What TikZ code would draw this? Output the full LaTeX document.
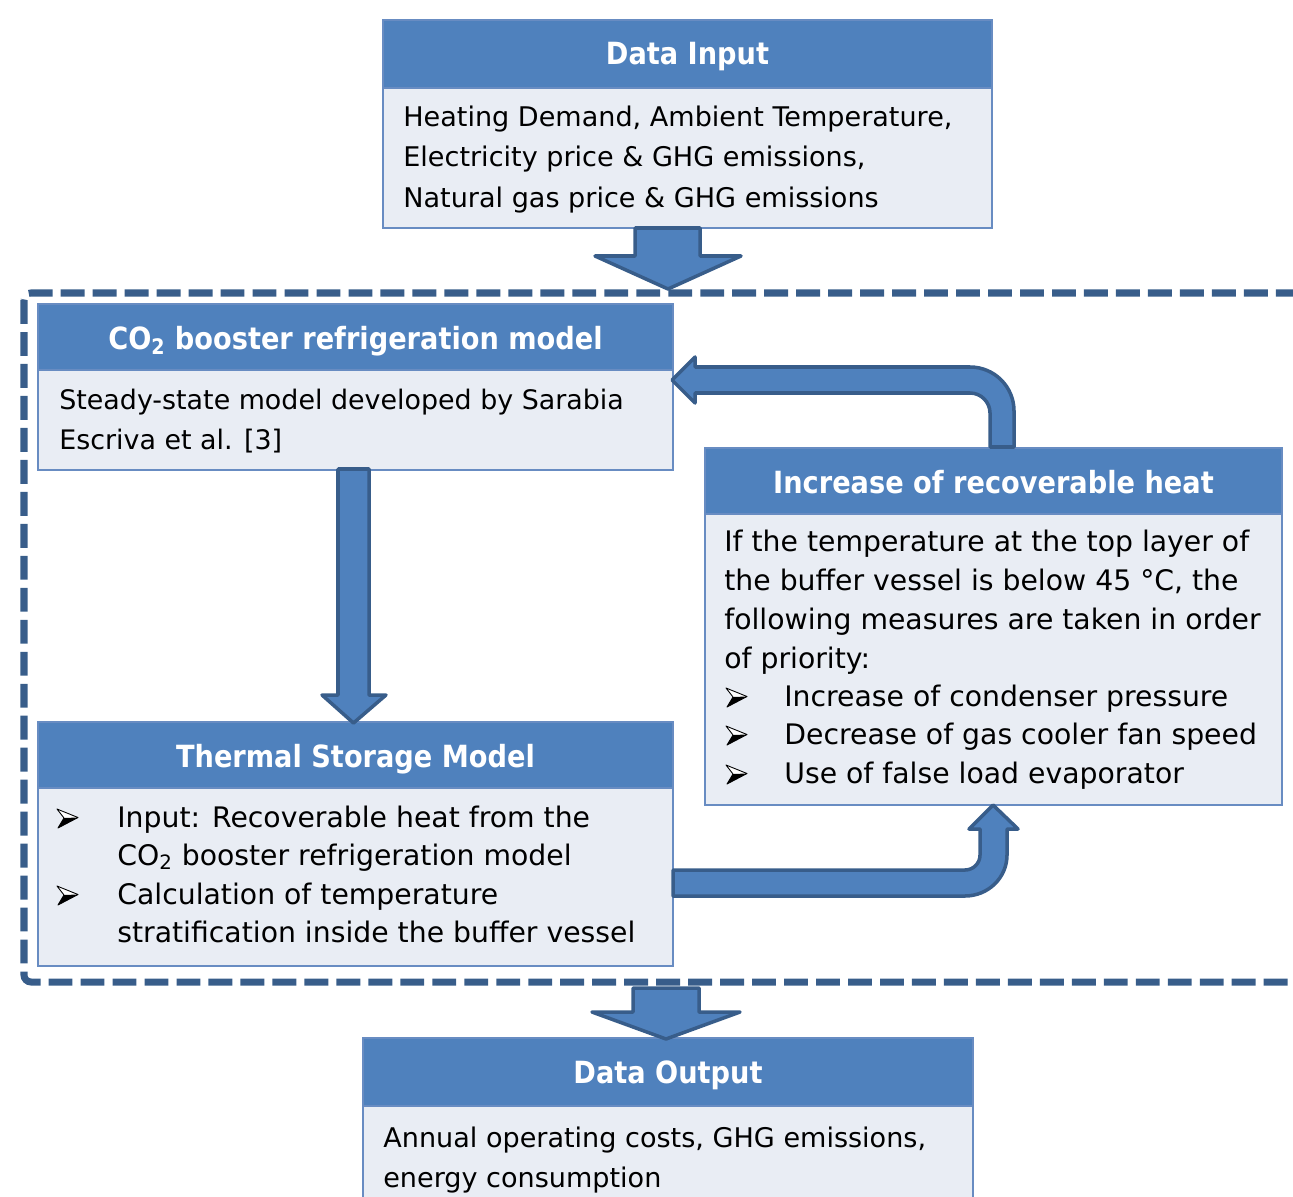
\documentclass[tikz,border=0pt]{standalone}
\usepackage{fontspec}
\setmainfont{DejaVu Sans}
\newfontfamily\hdrfont{DejaVu Sans}[FakeStretch=0.89]
\usetikzlibrary{calc}
\definecolor{hdrblue}{RGB}{79,129,189}
\definecolor{bodyfill}{RGB}{233,237,244}
\definecolor{bodyline}{RGB}{104,140,194}
\definecolor{darkblue}{RGB}{56,93,138}
\begin{document}
\begin{tikzpicture}[x=0.02cm,y=-0.02cm,
  hdr/.style={draw=bodyline, line width=1.1pt, fill=hdrblue, rectangle, inner sep=0pt, outer sep=0pt, anchor=north west},
  bodybox/.style={draw=bodyline, line width=1.1pt, fill=bodyfill, rectangle, inner sep=0pt, outer sep=0pt, anchor=north west},
  htext/.style={text=white, font=\hdrfont\bfseries\fontsize{17.4}{20}\selectfont, anchor=base, inner sep=0pt},
  btext/.style={text=black, font=\fontsize{15.4}{18}\selectfont, anchor=base west, inner sep=0pt},
  btextC/.style={text=black, font=\fontsize{15.3}{18}\selectfont, anchor=base west, inner sep=0pt},
  btextL/.style={text=black, font=\fontsize{16.1}{19}\selectfont, anchor=base west, inner sep=0pt},
  blockarrow/.style={fill=hdrblue, draw=darkblue, line width=2pt, line join=round},
  frame/.style={draw=darkblue, line width=4pt, dash pattern=on 13.6pt off 4.6pt, rounded corners=4pt},
  arrbullet/.pic={
    \draw[black, line width=0.5pt, line join=round, fill=white] (-7,-9) -- (14,-0.5) -- (-6,10) -- (0,0) -- cycle;
    \fill[black] (0,0) -- (14,-0.5) -- (-6,10) -- cycle;
  }
  ]
\useasboundingbox (0,0) rectangle (1293,1196);
\clip (0,0) rectangle (1293,1196);

% dashed frame
\draw[frame] (24,293) rectangle (1340,982);

% Data Input
\node[hdr, minimum width=12.18cm, minimum height=1.36cm] (inH) at (383,20) {};
\node[bodybox, minimum width=12.18cm, minimum height=2.80cm] (inB) at (383,88) {};
\node[htext] (inT) at (687.5,65) {Data Input};
\node[btext] (in1) at (403,127) {Heating Demand, Ambient Temperature,};
\node[btext] (in2) at (403,167) {Electricity price \& GHG emissions,};
\node[btext] (in3) at (403,207) {Natural gas price \& GHG emissions};

% CO2 model
\node[hdr, minimum width=12.70cm, minimum height=1.32cm] (coH) at (38,304) {};
\node[bodybox, minimum width=12.70cm, minimum height=2.00cm] (coB) at (38,370) {};
\node[htext] (coT) at (355.5,349) {CO\textsubscript{2} booster refrigeration model};
\node[btextC] (co1) at (59,409) {Steady-state model developed by Sarabia};
\node[btextC] (co2) at (59,449) {Escriva et al. [3]};

% Increase of recoverable heat
\node[hdr, minimum width=11.54cm, minimum height=1.32cm] (icH) at (705,448) {};
\node[bodybox, minimum width=11.54cm, minimum height=5.82cm] (icB) at (705,514) {};
\node[htext] (icT) at (993.5,493) {Increase of recoverable heat};
\node[btextL] (ic1) at (724,551) {If the temperature at the top layer of};
\node[btextL] (ic2) at (724,590) {the buffer vessel is below 45 °C, the};
\node[btextL] (ic3) at (724,629) {following measures are taken in order};
\node[btextL] (ic4) at (724,668) {of priority:};
\pic at (733,697) {arrbullet};
\node[btextL] (ic5) at (784,706) {Increase of condenser pressure};
\pic at (733,735) {arrbullet};
\node[btextL] (ic6) at (784,744) {Decrease of gas cooler fan speed};
\pic at (733,774) {arrbullet};
\node[btextL] (ic7) at (784,783) {Use of false load evaporator};

% Thermal storage
\node[hdr, minimum width=12.70cm, minimum height=1.32cm] (thH) at (38,722) {};
\node[bodybox, minimum width=12.70cm, minimum height=3.56cm] (thB) at (38,788) {};
\node[htext] (thT) at (355.5,767) {Thermal Storage Model};
\pic at (64,818) {arrbullet};
\node[btextL] (th1) at (117,827) {Input: Recoverable heat from the};
\node[btextL] (th2) at (117,865) {CO\textsubscript{2} booster refrigeration model};
\pic at (64,895) {arrbullet};
\node[btextL] (th3) at (117,904) {Calculation of temperature};
\node[btextL] (th4) at (117,942) {stratification inside the buffer vessel};

% Data Output
\node[hdr, minimum width=12.20cm, minimum height=1.36cm] (ouH) at (363,1038) {};
\node[bodybox, minimum width=12.20cm, minimum height=2.20cm] (ouB) at (363,1106) {};
\node[htext] (ouT) at (668,1083) {Data Output};
\node[btext] (ou1) at (383,1147) {Annual operating costs, GHG emissions,};
\node[btext] (ou2) at (383,1187) {energy consumption};

% block arrows
% Data Input -> frame
\draw[blockarrow] (635,228) -- (635,256) -- (595,256) -- (668,289) -- (741,256) -- (700,256) -- (700,228) -- cycle;
% frame -> Data Output
\draw[blockarrow] (633,988) -- (633,1012) -- (592,1012) -- (666,1039) -- (740,1012) -- (699,1012) -- (699,988) -- cycle;
% CO2 -> Thermal
\draw[blockarrow] (338,469) -- (338,695) -- (322,695) -- (353.5,723) -- (386,695) -- (369,695) -- (369,469) -- cycle;
% Increase -> CO2 (return)
\draw[blockarrow] (990,447) -- (990,413) .. controls (990,402) and (981,393) .. (970,393)
   -- (695,393) -- (695,403) -- (672,380) -- (695,357) -- (695,367) -- (970,367)
   .. controls (994.3,367) and (1014,386.7) .. (1014,411) -- (1014,447) -- cycle;
% Thermal -> Increase
\draw[blockarrow] (673,870) -- (965,870) .. controls (973.3,870) and (980,863.3) .. (980,855)
   -- (980,829) -- (969,829) -- (993,805) -- (1018,829) -- (1007,829) -- (1007,855)
   .. controls (1007,877.6) and (988.2,896) .. (965,896) -- (673,896) -- cycle;
\end{tikzpicture}
\end{document}
